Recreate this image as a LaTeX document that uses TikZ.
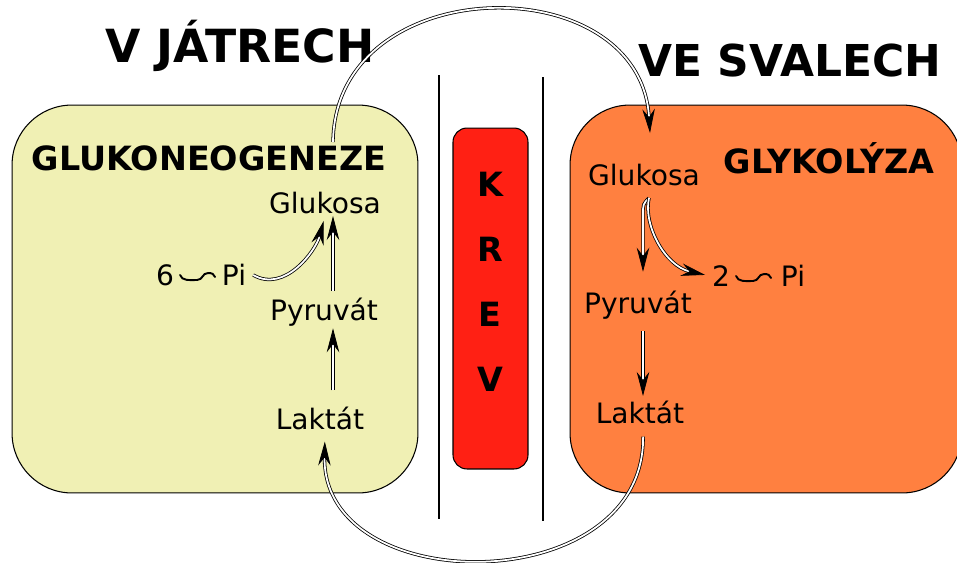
\documentclass[tikz,border=0pt]{standalone}
\usepackage{fontspec}
\setmainfont{DejaVu Sans}
\usetikzlibrary{arrows.meta, positioning}
\definecolor{liver}{RGB}{240,240,180}
\definecolor{muscle}{RGB}{255,128,64}
\definecolor{blood}{RGB}{255,32,20}
\tikzset{
  organbox/.style={rectangle, draw=black, rounded corners=1.2cm, line width=0.6pt},
  liverbox/.style={organbox, fill=liver, minimum width=8.12cm, minimum height=7.76cm},
  musclebox/.style={organbox, fill=muscle, minimum width=7.84cm, minimum height=7.76cm},
  bloodbox/.style={rectangle, draw=black, fill=blood, rounded corners=2.8mm,
    minimum width=1.5cm, minimum height=6.82cm, line width=0.6pt},
  place/.style={font=\fontsize{26}{30}\selectfont\bfseries},
  pathway/.style={font=\fontsize{19}{22}\selectfont\bfseries},
  metab/.style={font=\fontsize{16}{19}\selectfont, inner sep=1pt},
  krevtext/.style={font=\fontsize{19}{37}\selectfont\bfseries, align=center},
  dblarrow/.style={draw=black, double=white, double distance=1pt, line width=0.45pt,
    -{Stealth[length=4.8mm, width=2.5mm, inset=1.6mm]}},
  bond/.style={line width=1.1pt, line cap=round},
  vessel/.style={line width=0.6pt}
}
\begin{document}
\begin{tikzpicture}[x=0.02cm, y=-0.02cm]
  \useasboundingbox (0,0) rectangle (957,562);
  % compartments
  \node[liverbox] (liver) at (215,299) {};
  \node[musclebox] (muscle) at (766,299) {};
  \node[bloodbox] (blood) at (490.5,298.5) {};
  \draw[vessel] (439,75) -- (439,519);
  \draw[vessel] (543,77) -- (543,521);
  \node[krevtext] (krev) at (490,282) {K\\R\\E\\V};
  % titles
  \node[place] (jatra) at (240,46) {V JÁTRECH};
  \node[place, font=\fontsize{25}{30}\selectfont\bfseries] (svaly) at (790,61) {VE SVALECH};
  \node[pathway] (gng) at (209,158) {GLUKONEOGENEZE};
  \node[pathway] (glyk) at (829,158) {GLYKOLÝZA};
  % liver
  \coordinate (axisL) at (333,0);
  \node[metab] (glukL) at (325,203) {Glukosa};
  \node[metab] (pyrL) at (324,312) {Pyruvát};
  \node[metab] (laktL) at (320,418) {Laktát};
  \node[metab] (sixL) at (165,275) {6};
  \node[metab] (piL) at (234,275) {Pi};
  % muscle
  \coordinate (axisR) at (643,0);
  \coordinate (forkR) at (649,198);
  \node[metab] (glukR) at (644,175) {Glukosa};
  \node[metab] (pyrR) at (638,305) {Pyruvát};
  \node[metab] (laktR) at (640,412) {Laktát};
  \node[metab] (twoR) at (721,276) {2};
  \node[metab] (piR) at (793,276) {Pi};
  % high-energy bonds
  \draw[bond] ([xshift=0.8mm]sixL.east) .. controls +(2,6) and +(-8,0) .. ++(17,5)
    .. controls +(6,0) and +(-6,0) .. ++(11,-7) .. controls +(4,0) and +(-1,-3) .. ++(7,4);
  \draw[bond] ([xshift=0.8mm]twoR.east) .. controls +(2,6) and +(-8,0) .. ++(17,5)
    .. controls +(6,0) and +(-6,0) .. ++(11,-7) .. controls +(4,0) and +(-1,-3) .. ++(7,4);
  % liver arrows
  \draw[dblarrow, shorten <=2.8mm] (laktL.north -| axisL) -- (pyrL.south -| axisL);
  \draw[dblarrow, shorten <=1mm] (pyrL.north -| axisL) -- (glukL.south -| axisL);
  \draw[dblarrow, shorten >=1mm] ([xshift=1mm]piL.east) to[out=-30, in=255] (glukL.south);
  % muscle arrows
  \draw[dblarrow, shorten >=3.4mm] (forkR) .. controls (643,204) .. (643,215)
    -- (pyrR.north -| axisR);
  \draw[dblarrow, shorten >=1mm] (forkR) .. controls (643,225) and (665,266) .. (twoR.west);
  \draw[dblarrow, shorten <=2mm, shorten >=0.5mm] (pyrR.south -| axisR) -- (laktR.north -| axisR);
  % transport through blood
  \coordinate (exportL) at (333,142);
  \coordinate (importR) at (650,133);
  \draw[dblarrow] (exportL) .. controls (335,-30) and (640,-35) .. (importR);
  \draw[dblarrow, shorten <=2.2mm, shorten >=2mm] (laktR.south -| axisR)
    .. controls (645,600) and (322,600) .. ([xshift=1mm]laktL.south);
\end{tikzpicture}
\end{document}
